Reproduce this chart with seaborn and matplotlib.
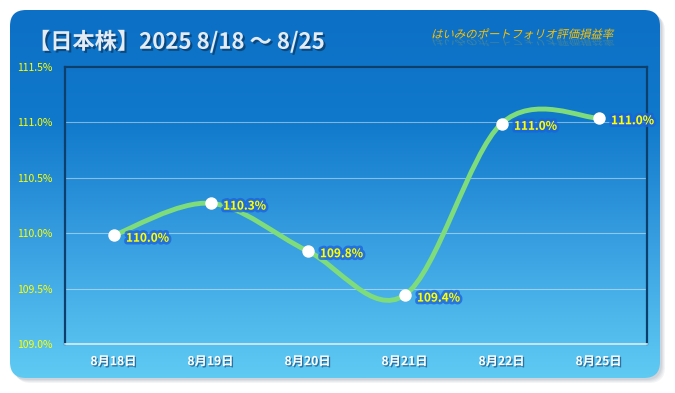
import numpy as np
import seaborn as sns
import matplotlib.pyplot as plt
import matplotlib.patheffects as pe
from matplotlib.patches import FancyBboxPatch, PathPatch
from matplotlib.path import Path
from matplotlib.transforms import Affine2D
from matplotlib.colors import LinearSegmentedColormap

sns.set_theme(style="white")
plt.rcParams["font.family"] = ["Noto Sans CJK JP", "DejaVu Sans"]

# データ
dates = ["8月18日", "8月19日", "8月20日", "8月21日", "8月22日", "8月25日"]
rates = [109.98, 110.27, 109.84, 109.44, 110.99, 111.04]
yticks = [109.0, 109.5, 110.0, 110.5, 111.0, 111.5]
title = "【日本株】2025 8/18 〜 8/25"
subtitle = "はいみのポートフォリオ評価損益率"


class Skew(pe.AbstractPathEffect):
    # 斜体・反射用のパスエフェクト
    def __init__(self, deg=14, flip=False, alpha=None, offset=(0, 0)):
        super().__init__(offset)
        self.deg, self.flip, self.alpha = deg, flip, alpha

    def draw_path(self, renderer, gc, tpath, affine, rgbFace=None):
        t = Affine2D().skew_deg(self.deg, 0)
        if self.flip:
            t = t.scale(1, -0.7)
        gc0 = renderer.new_gc()
        gc0.copy_properties(gc)
        if self.alpha is not None:
            gc0.set_alpha(self.alpha)
        renderer.draw_path(gc0, tpath, t + affine + self._offset_transform(renderer), rgbFace)
        gc0.restore()


fig = plt.figure(figsize=(6.75, 3.93), dpi=100, facecolor="white")

# 背景（角丸＋グラデーション）
bg = fig.add_axes([0, 0, 1, 1], zorder=0)
bg.set_xlim(0, 675)
bg.set_ylim(393, 0)
bg.axis("off")
for i, a in enumerate([0.10, 0.10, 0.12, 0.14]):
    d = 5 - i
    sh = FancyBboxPatch((10 + d, 10 + d), 650, 368, boxstyle="round,pad=0,rounding_size=16",
                        fc="#8a96a6", ec="none", alpha=a)
    bg.add_patch(sh)
box = FancyBboxPatch((10, 10), 650, 368, boxstyle="round,pad=0,rounding_size=16",
                     fc="none", ec="none")
bg.add_patch(box)
cmap = LinearSegmentedColormap.from_list(
    "bg", [(0, "#0c70c6"), (0.3, "#1079cb"), (0.65, "#3aa1e2"), (1, "#5fcbf3")])
grad = np.linspace(0, 1, 256).reshape(-1, 1)
im = bg.imshow(grad, cmap=cmap, aspect="auto", extent=(10, 660, 378, 10), zorder=1)
im.set_clip_path(box)

bg.text(28, 42, title, fontsize=16, fontweight="bold", color="#e4ebf3", va="center",
        path_effects=[pe.withSimplePatchShadow(offset=(1.5, -1.5), shadow_rgbFace="#0a3660", alpha=0.7)])
bg.text(431, 38, subtitle, fontsize=8.2, color="#ffc000", va="baseline",
        path_effects=[Skew(14), Skew(14, flip=True, alpha=0.22, offset=(0, -1))])

# プロット領域
ax = fig.add_axes([65 / 675, (393 - 344) / 393, 582 / 675, 277 / 393], zorder=2)
ax.set_facecolor("none")
xs = np.arange(len(dates))

# 平滑化した折れ線（ベジェ）
pts = np.column_stack([xs, rates])
ext = np.vstack([pts[0], pts, pts[-1]])
verts, codes = [tuple(pts[0])], [Path.MOVETO]
for i in range(len(pts) - 1):
    p0, p1, p2, p3 = ext[i], ext[i + 1], ext[i + 2], ext[i + 3]
    verts += [tuple(p1 + (p2 - p0) / 6), tuple(p2 - (p3 - p1) / 6), tuple(p2)]
    codes += [Path.CURVE4] * 3
ax.add_patch(PathPatch(Path(verts, codes), fc="none", ec="#7fdc7a", lw=3.5,
                       capstyle="round", zorder=3))

sns.scatterplot(x=xs, y=rates, ax=ax, s=80, color="white", edgecolor="white",
                linewidth=0, zorder=4)

for x, v in zip(xs, rates):
    ax.annotate(f"{v:.1f}%", (x, v), xytext=(9, -2), textcoords="offset points",
                fontsize=8.5, fontweight="bold", color="#ffff00", va="center", ha="left",
                path_effects=[pe.Stroke(linewidth=4, foreground="#1c62dc", alpha=0.75), pe.Normal()],
                zorder=5)

ax.set_xlim(-0.5, len(dates) - 0.5)
ax.set_ylim(109.0, 111.5)
ax.set_yticks(yticks)
ax.set_yticklabels([f"{v:.1f}%" for v in yticks])
ax.set_xticks(xs)
ax.set_xticklabels(dates)
ax.set_xticks(np.arange(-0.5, len(dates)), minor=True)
ax.grid(axis="y", color="white", alpha=0.45, lw=0.8)
ax.tick_params(axis="y", length=0, pad=9, labelsize=7.5, labelcolor="#ffff00")
ax.tick_params(axis="x", which="major", length=0, pad=8, labelsize=8.8, labelcolor="white")
ax.tick_params(axis="x", which="minor", length=4, width=1, color="#dcecf7", direction="out")
for lab in ax.get_xticklabels():
    lab.set_fontweight("bold")
    lab.set_path_effects([pe.withSimplePatchShadow(offset=(1, -1), shadow_rgbFace="#1a4f80", alpha=0.7)])
for s in ["left", "right", "top"]:
    ax.spines[s].set_color("#0c3f6c")
    ax.spines[s].set_linewidth(1.6)
ax.spines["bottom"].set_color("#dcecf7")
ax.spines["bottom"].set_linewidth(1.2)
ax.set_xlabel("")
ax.set_ylabel("")

fig.savefig("out.png", dpi=100)
